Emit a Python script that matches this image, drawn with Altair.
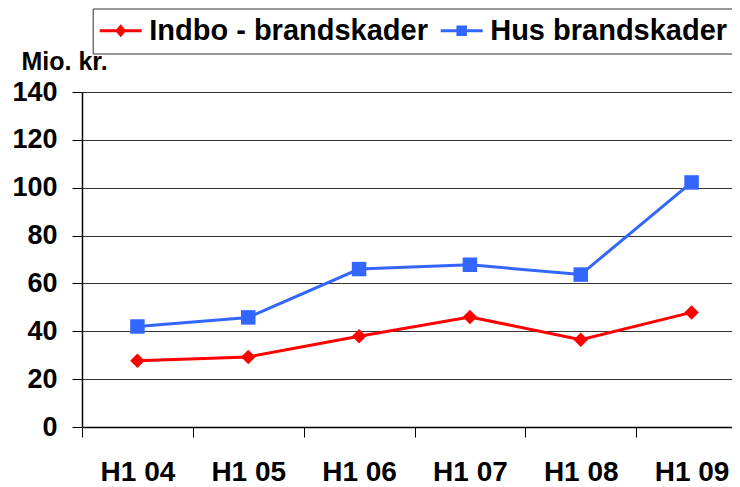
import altair as alt
import pandas as pd

periods = ["H1 04", "H1 05", "H1 06", "H1 07", "H1 08", "H1 09"]
indbo = [27.7, 29.3, 37.9, 46.0, 36.5, 47.9]
hus = [42.0, 45.8, 66.0, 67.8, 63.7, 102.2]
series_names = ["Indbo - brandskader", "Hus brandskader"]
series_colors = ["#FF0000", "#3366FF"]
marker_shapes = ["diamond", "square"]
# legend symbols: a line segment with the series' marker on it
legend_shapes = [
    "M-1.5,-0.15H2.7V0.15H-1.5Z M0.6,-0.65L1.15,0L0.6,0.65L0.05,0Z",
    "M-1.5,-0.15H2.7V0.15H-1.5Z M0.075,-0.525H1.125V0.525H0.075Z",
]
y_ticks = [0, 20, 40, 60, 80, 100, 120, 140]

rows = []
for p, a, b in zip(periods, indbo, hus):
    rows.append({"period": p, "series": series_names[0], "value": a})
    rows.append({"period": p, "series": series_names[1], "value": b})
df = pd.DataFrame(rows)

FONT = "Liberation Sans"

x_enc = alt.X(
    "period:N",
    sort=periods,
    bandPosition=0.5,
    scale=alt.Scale(type="band", paddingInner=0, paddingOuter=0, range=[0, 665]),
    axis=alt.Axis(
        title=None, labelAngle=0, labelFontSize=28, labelFontWeight="bold",
        labelColor="black", labelFont=FONT, labelPadding=21, labelBaseline="top",
        tickBand="extent", tickSize=10, tickColor="black", tickWidth=1,
        domainColor="black", domainWidth=1.5, grid=False, labelOverlap=False,
    ),
)
y_enc = alt.Y(
    "value:Q",
    scale=alt.Scale(domain=[0, 140], nice=False),
    axis=alt.Axis(
        values=y_ticks, title="Mio. kr.", titleAngle=0, titleAlign="left",
        titleBaseline="alphabetic", titleX=-61, titleY=-22.5, titleFontSize=25,
        titleFont=FONT, titleFontWeight="bold", titleColor="black",
        labelFontSize=27, labelFontWeight="bold", labelFont=FONT, labelColor="black",
        labelPadding=15, tickSize=10, tickColor="black", tickWidth=1,
        domainColor="black", domainWidth=1.5, grid=True, gridColor="#333333",
        gridWidth=1,
    ),
)

legend = alt.Legend(
    title=None, orient="none", legendX=10.7, legendY=-83.5, direction="horizontal",
    labelFontSize=29, labelFont=FONT, labelFontWeight="bold", labelColor="black",
    labelLimit=600, symbolSize=400, symbolStrokeWidth=0, symbolOpacity=1,
    labelOffset=20, columnPadding=12, padding=7.5, strokeColor="#333333",
    fillColor="white",
)

base = alt.Chart(df)

layers = []
for name, col, shp in zip(series_names, series_colors, marker_shapes):
    sub = base.transform_filter(alt.datum.series == name)
    layers.append(sub.mark_line(strokeWidth=3, color=col).encode(x=x_enc, y=y_enc))
    layers.append(
        sub.mark_point(filled=True, opacity=1, size=210, shape=shp, color=col)
        .encode(x=x_enc, y=y_enc)
    )

legend_layer = base.transform_filter("datum.value < 0").mark_point(
    filled=True, size=400, opacity=1, strokeWidth=0
).encode(
    x=x_enc, y=y_enc,
    color=alt.Color("series:N", scale=alt.Scale(domain=series_names, range=series_colors), legend=legend),
    shape=alt.Shape("series:N", scale=alt.Scale(domain=series_names, range=legend_shapes), legend=legend),
)

chart = alt.layer(*layers, legend_layer).properties(
    width=650, height=335,
    padding={"left": 74, "top": 84, "right": 0, "bottom": 60},
    autosize=alt.AutoSizeParams(type="none"),
    background="white",
).configure_view(stroke=None)

chart.save("out.html", embed_options={"renderer": "svg", "actions": False})
